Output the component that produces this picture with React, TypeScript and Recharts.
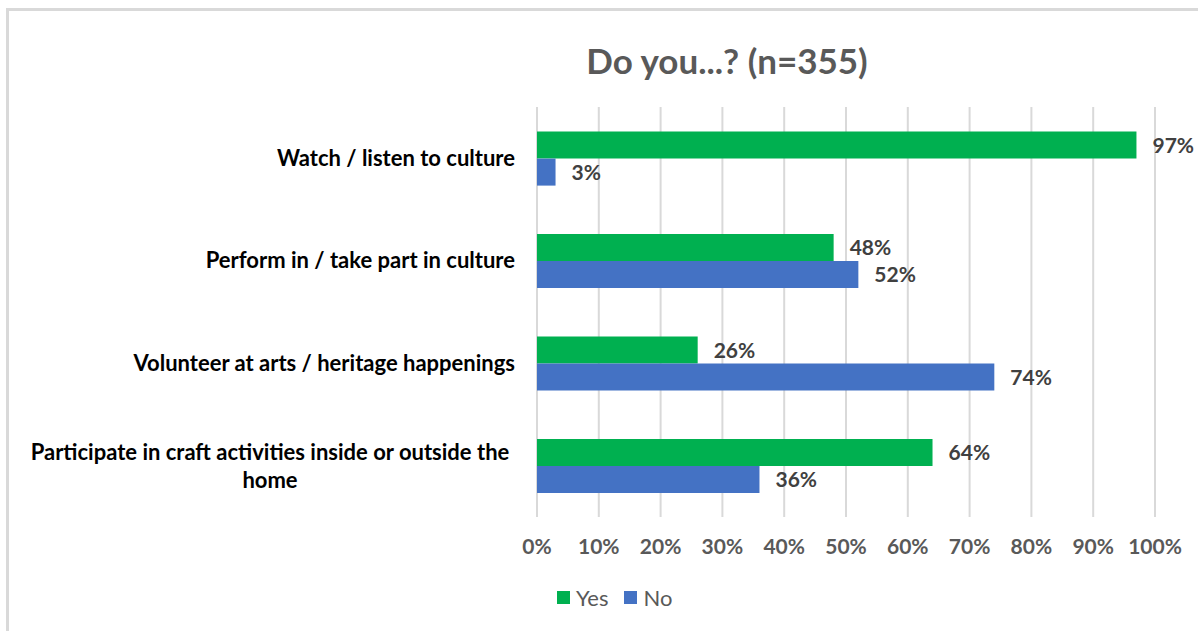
import React from "react";
import { Bar, BarChart, CartesianGrid, LabelList, XAxis, YAxis } from "recharts";

const categories = [
  "Watch / listen to culture",
  "Perform in / take part in culture",
  "Volunteer at arts / heritage happenings",
  "Participate in craft activities inside or outside the\nhome",
];
const yesValues = [97, 48, 26, 64];
const noValues = [3, 52, 74, 36];
const xTicks = [0, 10, 20, 30, 40, 50, 60, 70, 80, 90, 100];

const GREEN = "#00B050";
const BLUE = "#4472C4";
const FONT = "Lato, 'Open Sans', sans-serif";

const data = categories.map((name, i) => ({ name, yes: yesValues[i], no: noValues[i] }));

function CategoryTick(props: any) {
  const { y, payload } = props;
  const lines = String(payload.value).split("\n");
  if (lines.length === 1) {
    return (
      <text x={515} y={y} dy="0.35em" textAnchor="end" fill="#000" fontSize={22} fontWeight={700} fontFamily={FONT}>
        {lines[0]}
      </text>
    );
  }
  return (
    <text x={270} y={y} textAnchor="middle" fill="#000" fontSize={22} fontWeight={700} fontFamily={FONT}>
      {lines.map((l, i) => (
        <tspan key={i} x={270} dy={i === 0 ? -6 : 28}>
          {l}
        </tspan>
      ))}
    </text>
  );
}

function LegendBox() {
  const items = [
    { label: "Yes", color: GREEN },
    { label: "No", color: BLUE },
  ];
  return (
    <div style={{ display: "flex", alignItems: "center", fontFamily: FONT, fontSize: 22, color: "#595959" }}>
      {items.map((it) => (
        <div key={it.label} style={{ display: "flex", alignItems: "center", marginRight: 16 }}>
          <span style={{ width: 13, height: 13, background: it.color, display: "inline-block", marginRight: 6 }} />
          <span>{it.label}</span>
        </div>
      ))}
    </div>
  );
}

const labelStyle = { fill: "#404040", fontSize: 21, fontWeight: 700, fontFamily: FONT };

export default function App() {
  return (
    <div style={{ position: "absolute", left: 0, top: 0, width: 1198, height: 631, overflow: "hidden", background: "#fff" }}>
      <div
        style={{
          position: "absolute",
          left: 6,
          top: 8,
          width: 1400,
          height: 800,
          border: "3px solid #D9D9D9",
          boxSizing: "border-box",
        }}
      />
      <div
        style={{
          position: "absolute",
          left: 0,
          top: 39,
          width: 1454,
          textAlign: "center",
          fontFamily: FONT,
          fontWeight: 700,
          fontSize: 35,
          lineHeight: "42px",
          color: "#595959",
        }}
      >
        Do you...? (n=355)
      </div>
      <div style={{ position: "absolute", left: 0, top: 0 }}>
        <BarChart
          width={1198}
          height={631}
          data={data}
          layout="vertical"
          margin={{ top: 107, right: 43, bottom: 84, left: 0 }}
          barCategoryGap="24%"
          barGap={0}
        >
          <CartesianGrid horizontal={false} stroke="#D9D9D9" strokeWidth={2} />
          <XAxis
            type="number"
            domain={[0, 100]}
            ticks={xTicks}
            tickFormatter={(v) => `${v}%`}
            axisLine={false}
            tickLine={false}
            tickMargin={16}
            height={30}
            tick={{ fill: "#595959", fontSize: 21, fontWeight: 700, fontFamily: FONT }}
            interval={0}
          />
          <YAxis type="category" dataKey="name" width={537} axisLine={false} tickLine={false} tick={<CategoryTick />} interval={0} />
          <Bar dataKey="yes" name="Yes" fill={GREEN} isAnimationActive={false}>
            <LabelList dataKey="yes" position="right" offset={16} formatter={(v: any) => `${v}%`} style={labelStyle} />
          </Bar>
          <Bar dataKey="no" name="No" fill={BLUE} isAnimationActive={false}>
            <LabelList dataKey="no" position="right" offset={16} formatter={(v: any) => `${v}%`} style={labelStyle} />
          </Bar>
        </BarChart>
      </div>
      <div style={{ position: "absolute", left: 557, top: 584 }}>
        <LegendBox />
      </div>
    </div>
  );
}
